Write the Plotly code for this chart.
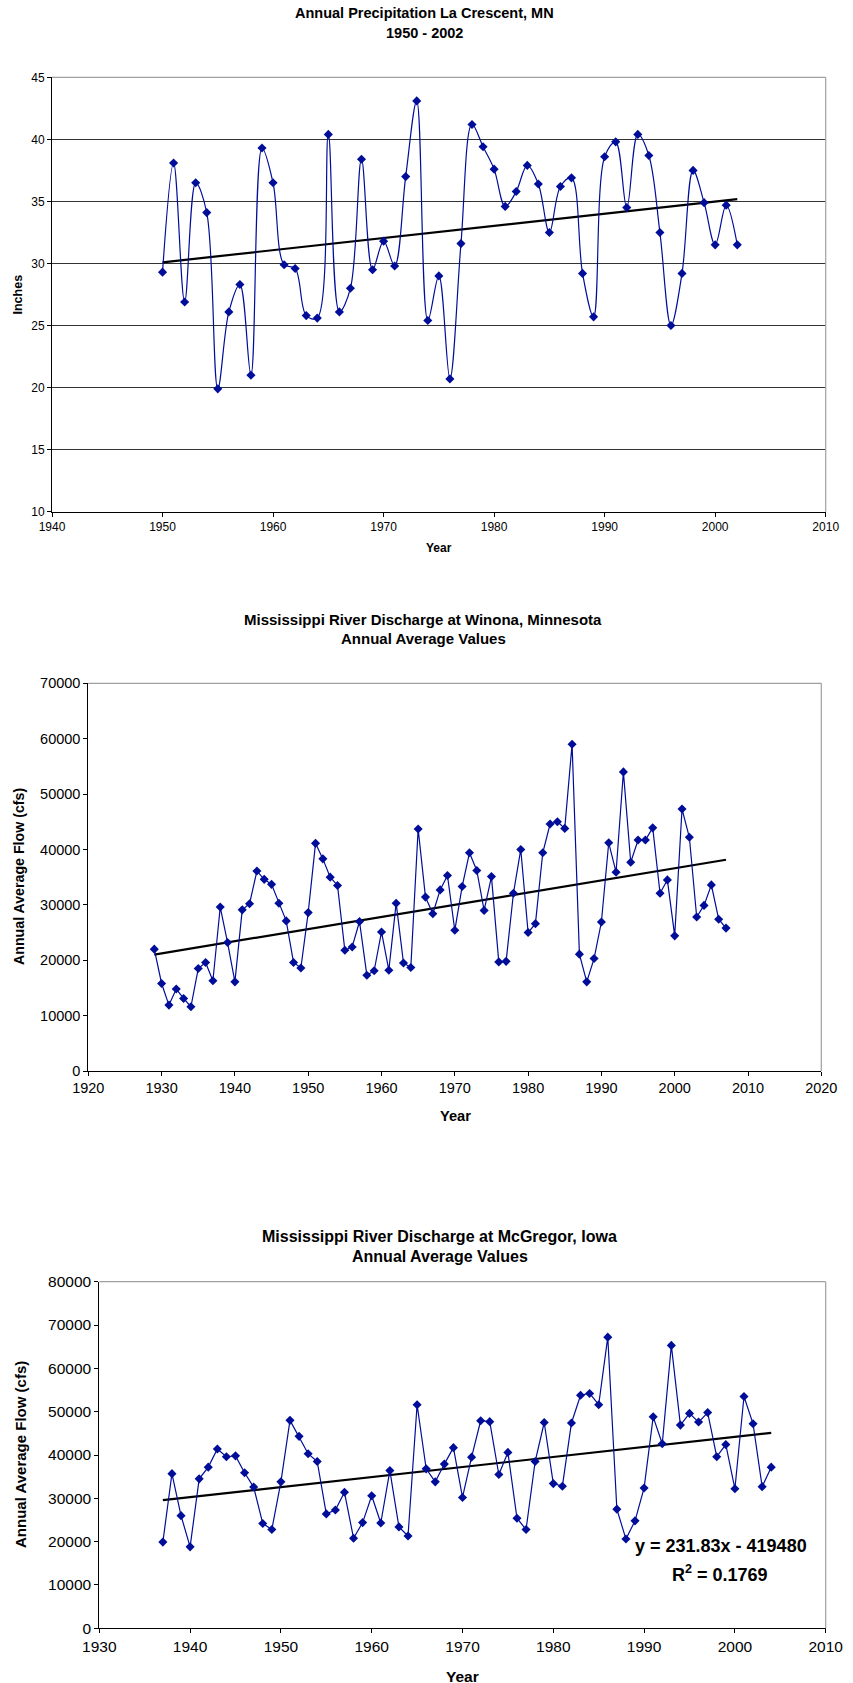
import numpy as np
import plotly.graph_objects as go

# ---------------- data ----------------
precip_years = list(range(1950, 2003))
precip_inches = [29.3, 38.1, 26.9, 36.5, 34.1, 19.9, 26.1, 28.3, 21.0, 39.3,
                 36.5, 29.9, 29.6, 25.8, 25.6, 40.4, 26.1, 28.0, 38.4, 29.5,
                 31.8, 29.8, 37.0, 43.1, 25.4, 29.0, 20.7, 31.6, 41.2, 39.4,
                 37.6, 34.6, 35.8, 37.9, 36.4, 32.5, 36.2, 36.9, 29.2, 25.7,
                 38.6, 39.8, 34.5, 40.4, 38.7, 32.5, 25.0, 29.2, 37.5, 34.9,
                 31.5, 34.7, 31.5]

winona_years = list(range(1929, 2008))
winona_flow = [22000, 15800, 11900, 14800, 13100, 11600, 18500, 19600, 16300, 29600,
               23200, 16100, 29100, 30200, 36100, 34600, 33700, 30300, 27100, 19600,
               18600, 28600, 41100, 38300, 35000, 33500, 21800, 22400, 27000, 17300,
               18100, 25100, 18200, 30300, 19500, 18700, 43700, 31400, 28400, 32700,
               35300, 25400, 33300, 39400, 36200, 29000, 35100, 19700, 19800, 32100,
               40000, 25000, 26600, 39400, 44600, 45000, 43800, 59000, 21100, 16100,
               20300, 26900, 41200, 35900, 54000, 37700, 41700, 41700, 43900, 32100,
               34500, 24400, 47300, 42200, 27800, 29900, 33600, 27400, 25800]

mcgregor_years = list(range(1937, 2005))
mcgregor_flow = [19900, 35700, 26000, 18800, 34500, 37200, 41400, 39600, 39800, 35900,
                 32600, 24200, 22800, 33800, 48000, 44300, 40300, 38500, 26400, 27300,
                 31400, 20800, 24400, 30600, 24300, 36400, 23400, 21300, 51600, 36800,
                 33800, 37900, 41700, 30200, 39500, 47900, 47700, 35500, 40600, 25400,
                 22800, 38500, 47500, 33400, 32800, 47400, 53800, 54200, 51600, 67200,
                 27500, 20600, 24800, 32400, 48800, 42600, 65300, 46900, 49600, 47600,
                 49800, 39600, 42400, 32200, 53500, 47200, 32700, 37200]

mcgregor_slope = 231.83
mcgregor_intercept = -419480
mcgregor_eq_text = "y = 231.83x - 419480"
mcgregor_r2_text = "R<sup>2</sup> = 0.1769"

title_lines = [["Annual Precipitation La Crescent, MN", "1950 - 2002"],
               ["Mississippi River Discharge at Winona, Minnesota", "Annual Average Values"],
               ["Mississippi River Discharge at McGregor, Iowa", "Annual Average Values"]]

# ---------------- layout helpers ----------------
OFF = 0                      # body margin removed via post_script
W, H = 853, 1683
FONT = "Arial, Liberation Sans, sans-serif"
LINE_BLUE = "#000d99"


def px(x):
    return (x - OFF) / W


def py(y):
    return 1 - (y - OFF) / H


def xdom(a, b):
    return [px(a), px(b)]


def ydom(top, bottom):
    return [py(bottom), py(top)]


fig = go.Figure()

# trend lines
p1 = np.polyfit(precip_years, precip_inches, 1)
t1x = [precip_years[0], precip_years[-1]]
t1y = list(np.polyval(p1, t1x))
p2 = np.polyfit(winona_years, winona_flow, 1)
t2x = [winona_years[0], winona_years[-1]]
t2y = list(np.polyval(p2, t2x))
t3x = [mcgregor_years[0], mcgregor_years[-1]]
t3y = [mcgregor_slope * v + mcgregor_intercept for v in t3x]

marker = dict(symbol="diamond", size=7, color=LINE_BLUE)

fig.add_trace(go.Scatter(x=t1x, y=t1y, mode="lines", line=dict(color="black", width=2.2),
                         xaxis="x", yaxis="y", showlegend=False))
fig.add_trace(go.Scatter(x=precip_years, y=precip_inches, mode="lines+markers",
                         line=dict(color=LINE_BLUE, width=1.2, shape="spline", smoothing=1.0),
                         marker=marker, xaxis="x", yaxis="y", showlegend=False))

fig.add_trace(go.Scatter(x=t2x, y=t2y, mode="lines", line=dict(color="black", width=2.2),
                         xaxis="x2", yaxis="y2", showlegend=False))
fig.add_trace(go.Scatter(x=winona_years, y=winona_flow, mode="lines+markers",
                         line=dict(color=LINE_BLUE, width=1.2),
                         marker=marker, xaxis="x2", yaxis="y2", showlegend=False))

fig.add_trace(go.Scatter(x=t3x, y=t3y, mode="lines", line=dict(color="black", width=2.2),
                         xaxis="x3", yaxis="y3", showlegend=False))
fig.add_trace(go.Scatter(x=mcgregor_years, y=mcgregor_flow, mode="lines+markers",
                         line=dict(color=LINE_BLUE, width=1.2),
                         marker=marker, xaxis="x3", yaxis="y3", showlegend=False))


def axis(domain, rng, dtick, fsize, anchor, grid=False):
    return dict(domain=domain, range=rng, dtick=dtick, tick0=rng[0], anchor=anchor,
                automargin=False,
                showline=True, linecolor="black", linewidth=1,
                ticks="outside", ticklen=4, tickcolor="black", tickwidth=1,
                showgrid=grid, gridcolor="#333333", gridwidth=1, zeroline=False,
                tickfont=dict(family=FONT, size=fsize, color="black"),
                tickformat="d", fixedrange=True)


# plot boxes in page pixels: (left, top, right, bottom)
box1 = (52, 77.3, 825.7, 511.7)
box2 = (88.3, 683.3, 821.3, 1071)
box3 = (99.3, 1281.7, 825.7, 1628.3)

fig.update_layout(
    template="none",
    xaxis=axis(xdom(box1[0], box1[2]), [1940, 2010], 10, 12, "y"),
    yaxis=axis(ydom(box1[1], box1[3]), [10, 45], 5, 12, "x", grid=True),
    xaxis2=axis(xdom(box2[0], box2[2]), [1920, 2020], 10, 14.5, "y2"),
    yaxis2=axis(ydom(box2[1], box2[3]), [0, 70000], 10000, 14.5, "x2"),
    xaxis3=axis(xdom(box3[0], box3[2]), [1930, 2010], 10, 15.5, "y3"),
    yaxis3=axis(ydom(box3[1], box3[3]), [0, 80000], 10000, 15.5, "x3"),
)

# grey top/right borders
shapes = []
for (l, t, r, b) in (box1, box2, box3):
    shapes.append(dict(type="line", xref="paper", yref="paper", x0=px(l), x1=px(r),
                       y0=py(t), y1=py(t), line=dict(color="#a0a0a0", width=1.2), layer="above"))
    shapes.append(dict(type="line", xref="paper", yref="paper", x0=px(r), x1=px(r),
                       y0=py(t), y1=py(b), line=dict(color="#a0a0a0", width=1.2), layer="above"))

ann = []


def text(x, y, s, size, bold=True, angle=0):
    ann.append(dict(x=px(x), y=py(y), xref="paper", yref="paper", text=("<b>%s</b>" % s) if bold else s,
                    showarrow=False, xanchor="center", yanchor="middle", textangle=angle,
                    font=dict(family=FONT, size=size, color="black")))


# titles (one annotation per line)
text(424, 13, title_lines[0][0], 14.5)
text(424, 32.5, title_lines[0][1], 14.5)
text(423, 619.5, title_lines[1][0], 15)
text(423, 638.5, title_lines[1][1], 15)
text(439.5, 1236, title_lines[2][0], 16)
text(439.5, 1256, title_lines[2][1], 16)
# axis titles
text(17, 294.5, "Inches", 12.5, angle=-90)
text(439, 548, "Year", 12)
text(19, 877, "Annual Average Flow (cfs)", 14.2, angle=-90)
text(455, 1116, "Year", 14.6)
text(20, 1455, "Annual Average Flow (cfs)", 15, angle=-90)
text(462.5, 1676, "Year", 15.5)
# regression annotation
text(720.5, 1545.5, mcgregor_eq_text, 18)
text(720, 1573, mcgregor_r2_text, 18)

fig.update_layout(width=W, height=H, margin=dict(l=0, r=0, t=0, b=0, pad=0),
                  paper_bgcolor="white", plot_bgcolor="white",
                  shapes=shapes, annotations=ann, showlegend=False)

fig.write_html("out.html",
               config={"displayModeBar": False, "staticPlot": True},
               post_script="document.body.style.margin='0px';document.body.style.overflow='hidden';")
